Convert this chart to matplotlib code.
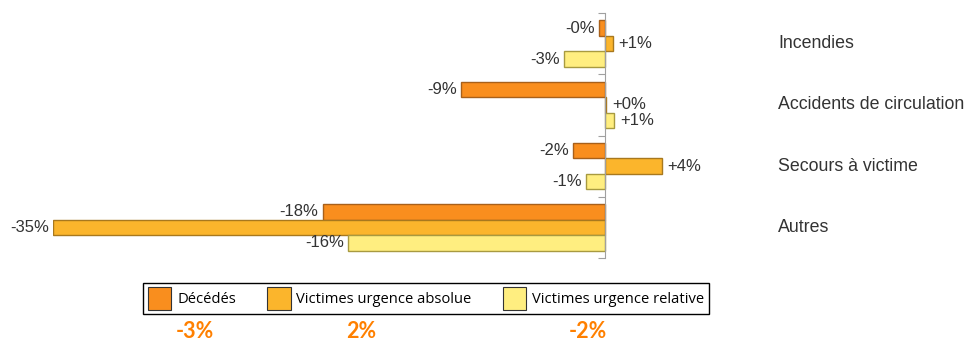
import matplotlib
matplotlib.use("Agg")
import matplotlib.pyplot as plt
from matplotlib.patches import Patch
import numpy as np

categories = ["Incendies", "Accidents de circulation", "Secours à victime", "Autres"]
series_names = ["Décédés", "Victimes urgence absolue", "Victimes urgence relative"]
decedes = [-0.4, -9.1, -2.0, -17.9]
urgence_absolue = [0.5, 0.1, 3.6, -35.0]
urgence_relative = [-2.6, 0.6, -1.2, -16.3]
value_labels = [
    ["-0%", "-9%", "-2%", "-18%"],
    ["+1%", "+0%", "+4%", "-35%"],
    ["-3%", "+1%", "-1%", "-16%"],
]
totals = ["-3%", "2%", "-2%"]

colors = ["#F98E1E", "#FBB52C", "#FFEE80"]
edges = ["#A8601A", "#A8781E", "#A89A40"]

W, H = 971, 341
fig = plt.figure(figsize=(W / 100, H / 100), dpi=100)
ax = fig.add_axes([53 / W, 1 - 258 / H, (720 - 53) / W, (258 - 13) / H])

series = [decedes, urgence_absolue, urgence_relative]
ypos = np.arange(len(categories))
h = 0.253
for k, vals in enumerate(series):
    y = ypos + (k - 1) * h
    ax.barh(y, vals, height=h, color=colors[k], edgecolor=edges[k], linewidth=1.0)
    for yi, v, lab in zip(y, vals, value_labels[k]):
        if v < 0:
            ax.annotate(lab, (v, yi), xytext=(-3, 0), textcoords="offset points",
                        ha="right", va="center", fontsize=12, color="#333333",
                        family="Liberation Sans")
        else:
            ax.annotate(lab, (v, yi), xytext=(4, 0), textcoords="offset points",
                        ha="left", va="center", fontsize=12, color="#333333",
                        family="Liberation Sans")

ax.set_xlim(-35, 7.3)
ax.set_ylim(3.5, -0.5)
for s in ["top", "right", "bottom"]:
    ax.spines[s].set_visible(False)
ax.spines["left"].set_position(("data", 0))
ax.spines["left"].set_color("#A0A0A0")
ax.set_xticks([])
ax.set_yticks(np.arange(-0.5, 3.6, 1.0))
ax.set_yticklabels([])
ax.tick_params(axis="y", length=5, color="#A0A0A0", direction="out")
ax.set_facecolor("none")

for yi, cat in zip(ypos, categories):
    ax.annotate(cat, (1.0, yi), xycoords=("axes fraction", "data"),
                xytext=(778 - 720, 0), textcoords="offset pixels",
                ha="left", va="center", fontsize=12.8, color="#333333",
                family="Liberation Sans")

handles = [Patch(facecolor=c, edgecolor="#333333", linewidth=0.8) for c in colors]
leg = fig.legend(handles, series_names, ncol=3, loc="center",
                 bbox_to_anchor=(426 / W, 1 - 298.5 / H), frameon=True, fancybox=False,
                 edgecolor="black", framealpha=1, prop={"family": "Open Sans", "size": 10.6},
                 handlelength=1.6, handleheight=2.0, columnspacing=2.1, handletextpad=0.4,
                 borderpad=0.3)
leg.get_frame().set_linewidth(1.0)

for x, t in zip([195, 361, 588], totals):
    fig.text(x / W, 1 - 331 / H, t, ha="center", va="center", fontsize=15.5,
             fontweight="bold", color="#FF8000", family="Lato")

fig.savefig("out.png", dpi=100)
